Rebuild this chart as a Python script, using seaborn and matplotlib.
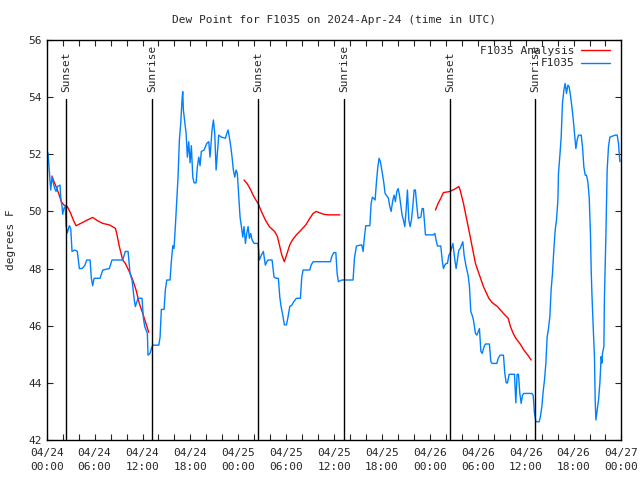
import pandas as pd
import matplotlib
matplotlib.use("Agg")
import matplotlib.pyplot as plt
import matplotlib.dates as mdates
import seaborn as sns

start = pd.Timestamp("2024-04-24 00:00")

# station obs (hours after start, degrees F)
obs_hours = [0.16, 0.41, 0.50, 0.66, 0.83, 1.00, 1.17, 1.33, 1.67, 1.75, 1.92, 2.00, 2.17, 2.33, 2.42, 2.58, 2.83, 3.01,
             3.17, 3.51, 3.83, 4.09, 4.42, 4.76, 5.01, 5.43, 5.59, 5.76, 5.93, 6.68, 7.02, 7.84, 8.18, 9.52, 9.85, 10.19,
             10.44, 10.69, 10.94, 11.10, 11.44, 11.94, 12.11, 12.28, 12.61, 12.69, 12.94, 13.11, 13.28, 14.04, 14.20,
             14.36, 14.70, 14.86, 15.04, 15.45, 15.61, 15.79, 15.95, 16.12, 16.29, 16.45, 16.62, 16.79, 16.95, 17.04,
             17.12, 17.29, 17.46, 17.62, 17.79, 17.96, 18.12, 18.30, 18.46, 18.71, 18.87, 19.05, 19.21, 19.37, 19.71,
             20.05, 20.30, 20.46, 20.71, 20.88, 21.05, 21.22, 21.38, 21.55, 21.88, 22.38, 22.56, 22.72, 22.88, 23.06,
             23.22, 23.38, 23.56, 23.72, 23.88, 24.06, 24.22, 24.39, 24.56, 24.72, 24.89, 25.06, 25.23, 25.39, 25.56,
             25.73, 25.98, 26.48, 26.64, 26.89, 27.14, 27.39, 27.57, 27.73, 28.23, 28.48, 28.73, 29.02, 29.20, 29.36,
             29.61, 29.77, 30.03, 30.20, 30.45, 30.70, 30.95, 31.28, 31.78, 31.95, 32.12, 32.96, 33.12, 33.37, 35.54,
             35.71, 35.96, 36.22, 36.38, 36.54, 36.97, 38.38, 38.55, 38.80, 39.47, 39.64, 39.80, 39.97, 40.48, 40.64,
             40.80, 41.14, 41.30, 41.48, 41.64, 41.80, 41.98, 42.23, 42.39, 42.81, 42.98, 43.15, 43.36, 43.52, 43.68,
             43.86, 44.02, 44.19, 44.36, 44.52, 44.69, 44.86, 45.03, 45.19, 45.36, 45.53, 45.69, 45.86, 46.03, 46.19,
             46.37, 46.53, 46.87, 47.03, 47.19, 47.37, 47.45, 48.45, 48.62, 48.78, 48.95, 49.37, 49.54, 49.70, 49.87,
             50.04, 50.20, 50.38, 50.54, 50.70, 50.88, 51.13, 51.29, 51.45, 51.63, 51.79, 52.13, 52.29, 52.54, 52.79,
             52.96, 53.13, 53.30, 53.46, 53.71, 53.88, 54.05, 54.21, 54.39, 54.55, 54.80, 54.96, 55.46, 55.64, 55.80,
             56.39, 56.56, 56.81, 57.22, 57.39, 57.56, 57.72, 57.93, 58.60, 58.77, 58.93, 59.10, 59.27, 59.44, 59.60,
             59.77, 60.78, 60.94, 61.10, 61.28, 61.69, 61.85, 62.03, 62.19, 62.36, 62.53, 62.69, 62.86, 63.03, 63.19,
             63.36, 63.53, 63.70, 63.86, 64.04, 64.11, 64.29, 64.45, 64.61, 64.79, 64.95, 65.11, 65.29, 65.45, 65.61,
             65.79, 65.95, 66.12, 66.29, 66.45, 66.62, 66.96, 67.12, 67.29, 67.46, 67.62, 67.79, 67.96, 68.12, 68.21,
             68.30, 68.46, 68.62, 68.71, 68.80, 68.96, 69.13, 69.30, 69.46, 69.55, 69.62, 69.80, 69.87, 70.05, 70.21,
             70.38, 70.55, 71.22, 71.47, 71.63, 71.80]
obs_dewpt = [52.05, 51.1, 50.75, 51.2, 51.0, 50.8, 50.7, 50.87, 50.92, 50.5, 50.17, 49.9, 50.12, 50.17, 49.5, 49.25, 49.5, 49.4,
             48.6, 48.65, 48.6, 48.0, 48.0, 48.1, 48.3, 48.3, 47.66, 47.4, 47.66, 47.66, 47.95, 48.0, 48.3, 48.3, 48.6, 48.6,
             47.83, 47.6, 46.96, 46.67, 46.96, 46.96, 46.26, 45.97, 45.73, 44.97, 45.03, 45.2, 45.32, 45.32, 45.6,
             46.57, 46.57, 47.25, 47.6, 47.6, 48.24, 48.8, 48.7, 49.5, 50.4, 51.2, 52.5, 53.08, 53.9, 54.19,
             53.55, 53.14, 52.73, 51.9, 52.44, 51.7, 52.3, 51.2, 51.0, 51.0, 51.56, 51.9, 51.6, 52.1, 52.15,
             52.38, 52.44, 51.9, 52.85, 53.2, 52.73, 51.45, 52.03, 52.67, 52.6, 52.56, 52.73, 52.85, 52.6, 52.27,
             51.9, 51.45, 51.2, 51.45, 51.33, 50.5, 49.8, 49.47, 49.1, 49.47, 48.88, 49.23, 49.47, 49.06, 49.23,
             49.0, 48.88, 48.88, 48.3, 48.47, 48.6, 48.12, 48.24, 48.3, 48.3, 47.7, 47.66, 47.66, 47.0, 46.67,
             46.31, 46.03, 46.03, 46.26, 46.67, 46.72, 46.84, 46.96, 46.96, 47.7, 47.95, 47.95, 48.12, 48.24, 48.24,
             48.42, 48.56, 48.56, 47.83, 47.54, 47.6, 47.6, 48.36, 48.79, 48.83, 48.6, 49.1, 49.5, 49.5, 50.28,
             50.5, 50.4, 51.0, 51.56, 51.86, 51.74, 51.45, 51.0, 50.63, 50.46, 50.17, 50.0, 50.4, 50.57, 50.34,
             50.7, 50.8, 50.57, 50.22, 49.87, 49.7, 49.47, 50.05, 50.75, 49.7, 49.47, 49.7, 50.17, 50.75, 50.75,
             50.17, 49.76, 49.8, 50.1, 50.1, 49.47, 49.18, 49.18, 49.23, 49.0, 48.79, 48.79, 48.3, 48.0, 48.12,
             48.18, 48.18, 48.47, 48.53, 48.7, 48.88, 48.3, 48.0, 48.3, 48.65, 48.7, 48.94, 48.47, 48.07, 47.77,
             47.37, 46.49, 46.37, 46.2, 45.73, 45.67, 45.79, 45.9, 45.1, 45.03, 45.27, 45.36, 45.36, 44.74, 44.68,
             44.68, 44.86, 44.97, 44.97, 44.33, 44.0, 44.0, 44.3, 44.3, 43.3, 44.3, 44.3, 43.63, 43.28, 43.57,
             43.63, 43.63, 43.57, 42.95, 42.64, 42.64, 42.82, 43.17, 43.69, 44.1, 44.68, 45.6, 45.9, 46.31, 47.25,
             47.83, 48.65, 49.35, 49.7, 50.4, 51.33, 51.97, 52.6, 53.78, 54.25, 54.48, 54.13, 54.42, 54.36, 54.07,
             53.67, 53.26, 52.73, 52.2, 52.5, 52.67, 52.67, 52.27, 51.56, 51.27, 51.27, 51.04, 50.5, 49.23, 47.95,
             47.13, 45.97, 44.92, 43.4, 42.7, 43.05, 43.4, 44.0, 44.92, 44.69, 45.03, 45.27, 47.0, 49.1, 51.45,
             52.27, 52.6, 52.67, 52.67, 52.38, 51.74]

# analysis, three separate runs
ana_hours = [
    [0.66, 0.83, 1.17, 1.50, 1.83, 2.17, 2.58, 3.01, 3.33, 3.67, 4.26, 5.09, 5.76, 6.34, 7.02, 7.84, 8.60, 8.77,
     9.10, 9.52, 9.85, 10.35, 10.78, 11.19, 11.60, 12.03, 12.36, 12.78],
    [24.72, 25.14, 25.56, 25.98, 26.48, 26.89, 27.39, 27.89, 28.57, 28.90, 29.15, 29.45, 29.77, 30.11, 30.45, 30.78,
     31.28, 31.87, 32.46, 32.96, 33.37, 33.78, 34.12, 34.71, 35.29, 36.72],
    [48.70, 49.03, 49.37, 49.70, 50.38, 51.04, 51.63, 51.79, 52.21, 52.63, 53.05, 53.38, 53.71, 54.14, 54.71, 55.39,
     55.80, 56.47, 57.22, 57.81, 58.10, 58.44, 58.77, 59.27, 59.77, 60.28, 60.69],
]
ana_dewpt = [
    [51.24, 51.1, 50.87, 50.63, 50.34, 50.22, 50.17, 49.93, 49.7, 49.5, 49.58, 49.7, 49.79, 49.68, 49.58, 49.53, 49.41,
     49.23, 48.77, 48.3, 48.18, 47.89, 47.6, 47.25, 46.78, 46.43, 46.14, 45.77],
    [51.1, 50.96, 50.75, 50.5, 50.28, 50.0, 49.7, 49.47, 49.29, 49.12, 48.83, 48.47, 48.24, 48.53, 48.83, 49.0,
     49.18, 49.35, 49.53, 49.76, 49.93, 50.0, 49.96, 49.9, 49.88, 49.88],
    [50.05, 50.28, 50.46, 50.66, 50.69, 50.77, 50.87, 50.75, 50.28, 49.7, 49.12, 48.65, 48.18, 47.83, 47.37, 46.96,
     46.81, 46.67, 46.43, 46.26, 45.97, 45.73, 45.56, 45.38, 45.15, 44.97, 44.8],
]

sun_hours = [2.42, 13.23, 26.48, 37.30, 50.57, 61.23]
sun_labels = ["Sunset", "Sunrise", "Sunset", "Sunrise", "Sunset", "Sunrise"]

sns.set_style("ticks")
plt.rcParams['font.family'] = ['DejaVu Sans Mono']
plt.rcParams['font.size'] = 8

obs = pd.DataFrame({"time": start + pd.to_timedelta(obs_hours, unit="h"), "dewpt": obs_dewpt})

fig = plt.figure(figsize=(6.4, 4.8), dpi=100)
ax = fig.add_axes([0.073, 0.0833, 0.898, 0.8334])

for i, (hh, vv) in enumerate(zip(ana_hours, ana_dewpt)):
    seg = pd.DataFrame({"time": start + pd.to_timedelta(hh, unit="h"), "dewpt": vv})
    sns.lineplot(data=seg, x="time", y="dewpt", color="#ff0000", lw=1, sort=False, estimator=None,
                 label="F1035 Analysis" if i == 0 else None, ax=ax)
sns.lineplot(data=obs, x="time", y="dewpt", color="#0080ff", lw=1, sort=False, estimator=None,
             label="F1035", ax=ax)

for h, lab in zip(sun_hours, sun_labels):
    t = start + pd.Timedelta(hours=h)
    ax.plot([t, t], [42, 53.93], color="black", lw=1)
    ax.text(t, 54.18, lab, rotation=90, ha="center", va="bottom", fontsize=8)

ax.set_xlim(start, start + pd.Timedelta(hours=72))
ax.set_ylim(42, 56)
ax.set_yticks(range(42, 57, 2))
ax.xaxis.set_major_locator(mdates.HourLocator(byhour=range(0, 24, 6)))
ax.xaxis.set_minor_locator(mdates.HourLocator(byhour=range(0, 24, 2)))
ax.xaxis.set_major_formatter(mdates.DateFormatter("%m/%d\n%H:%M"))
ax.tick_params(which="both", direction="in", length=4.5, width=0.8, top=True, right=True, labelsize=8)
ax.tick_params(axis="x", pad=5.5)
for s in ax.spines.values():
    s.set_linewidth(1)
    s.set_color("black")

ax.set_xlabel("")
ax.set_ylabel("degrees F", fontsize=8, labelpad=9)
ax.set_title("Dew Point for F1035 on 2024-Apr-24 (time in UTC)", fontsize=8, pad=12)

ax.legend(loc="upper right", bbox_to_anchor=(0.988, 0.997), frameon=False, markerfirst=False, fontsize=8,
          handlelength=2.6, handletextpad=0.6, labelspacing=0.25, borderaxespad=0)

fig.canvas.draw()
for lab in ax.get_xticklabels():
    lab.set_linespacing(1.55)

fig.savefig("out.png", dpi=100)
